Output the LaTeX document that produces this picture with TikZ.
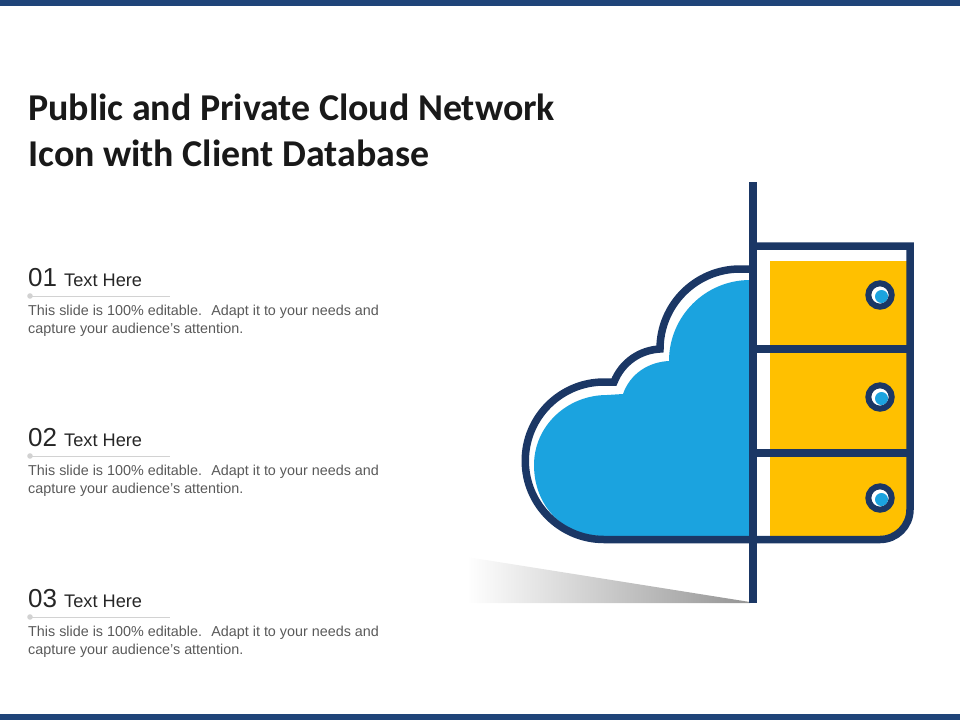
\documentclass[tikz,border=0pt]{standalone}
\usepackage{fontspec}
\setmainfont{Liberation Sans}
\newfontfamily\titlefont{Carlito}
\definecolor{navy}{HTML}{1B3765}
\definecolor{bandblue}{HTML}{1F4479}
\definecolor{cloudblue}{HTML}{1BA3DF}
\definecolor{drawer}{HTML}{FFC000}
\definecolor{rulegray}{HTML}{D2D2D2}
\definecolor{bodygray}{HTML}{595959}
\tikzset{
  outline/.style={draw=navy, line width=7.5pt},
  headline/.style={anchor=base west, inner sep=0pt, align=left, font=\titlefont\bfseries\fontsize{37.9}{46}\selectfont, text=black!90},
  numlabel/.style={anchor=base west, inner sep=0pt, font=\fontsize{26}{30}\selectfont, text=black!85},
  itemlabel/.style={anchor=base west, inner sep=0pt, font=\fontsize{18.2}{20}\selectfont, text=black!85},
  bodytext/.style={anchor=north west, inner sep=0pt, align=left, font=\fontsize{14.35}{18}\selectfont, text=bodygray},
  knob/.pic={
    \fill[white] (0,0) circle [radius=9];
    \fill[cloudblue] (1.5,1.5) circle [radius=6.5];
    \draw[navy, line width=6pt] (0,0) circle [radius=11.7];
  },
  legendrule/.pic={
    \draw[rulegray, line width=0.8pt] (0,0) -- (142,0);
    \fill[rulegray] (2,0) circle [radius=2.8];
  }
}
\begin{document}
\begin{tikzpicture}[x=1pt, y=-1pt]
  \useasboundingbox (0,0) rectangle (960,720);
  \fill[bandblue] (0,0) rectangle (960,6);
  \fill[bandblue] (0,714) rectangle (960,720);

  \node[headline] (heading) at (28,120.5) {Public and Private Cloud Network};
  \node[headline] (heading2) at (28,166) {Icon with Client Database};

  \node[numlabel] (num1) at (28,286) {01};
  \node[itemlabel] (item1) at (64,286) {Text Here};
  \pic at (28,296) {legendrule};
  \node[bodytext] (body1) at (28,305) {This slide is 100\% editable. \ Adapt it to your needs and\\capture your audience's attention.};

  \node[numlabel] (num2) at (28,446) {02};
  \node[itemlabel] (item2) at (64,446) {Text Here};
  \pic at (28,456) {legendrule};
  \node[bodytext] (body2) at (28,465) {This slide is 100\% editable. \ Adapt it to your needs and\\capture your audience's attention.};

  \node[numlabel] (num3) at (28,607) {03};
  \node[itemlabel] (item3) at (64,607) {Text Here};
  \pic at (28,617) {legendrule};
  \node[bodytext] (body3) at (28,626) {This slide is 100\% editable. \ Adapt it to your needs and\\capture your audience's attention.};

  \shade[left color=white, middle color=black!13, right color=black!42] (467,557) -- (750,602) -- (750,603) -- (467,603) -- cycle;

  \fill[cloudblue] (750,280) arc [start angle=-90, end angle=-180, radius=81]
    .. controls (648,362) and (630,374) .. (623,394)
    -- (607,395) .. controls (567,395) and (534,426) .. (534,465)
    .. controls (534,505) and (562,536) .. (603,536) -- (750,536) -- cycle;
  \fill[drawer] (770,261) -- (907,261) -- (907,510) arc [start angle=0, end angle=90, radius=26] -- (770,536) -- cycle;

  \draw[outline] (750,269) -- (740,269) arc [start angle=-90, end angle=-180, radius=80]
    .. controls (640,350) and (622,362) .. (614,382)
    -- (604,382) arc [start angle=-90, end angle=-270, radius=78.75] -- (753,539.5);
  \draw[outline] (753,246) -- (910,246) -- (910,509.5) arc [start angle=0, end angle=90, radius=30] -- (753,539.5);
  \draw[outline] (753,349) -- (910,349);
  \draw[outline] (753,453) -- (910,453);
  \draw[navy, line width=8pt] (753,182) -- (753,603);

  \pic at (880,295) {knob};
  \pic at (880,397) {knob};
  \pic at (880,498) {knob};
\end{tikzpicture}
\end{document}
